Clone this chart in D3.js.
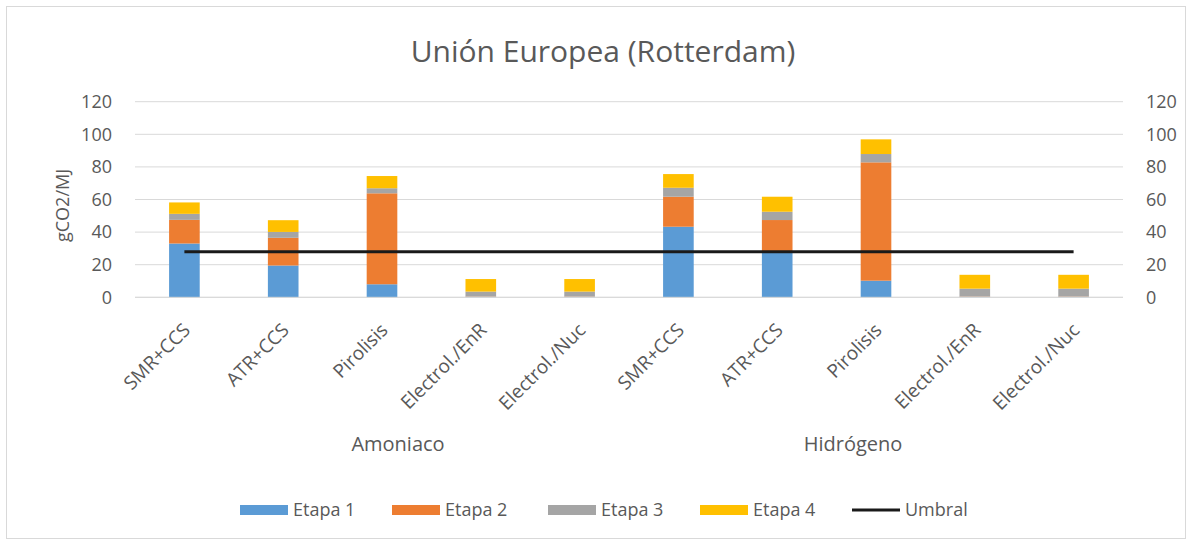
<!DOCTYPE html>
<html>
<head>
<meta charset="utf-8">
<script src="https://cdn.jsdelivr.net/npm/d3@7"></script>
<style>
  body { margin: 0; background: #fff; }
  svg text { font-family: "Open Sans", sans-serif; fill: #595959; }
</style>
</head>
<body>
<svg id="chart" width="1192" height="546"></svg>
<script>
// data
const groups = ['Amoniaco', 'Hidrógeno'];
const procesos = ['SMR+CCS', 'ATR+CCS', 'Pirolisis', 'Electrol./EnR', 'Electrol./Nuc'];
const etapa1 = [33, 19.5, 8, 0.3, 0.3, 43.3, 27.6, 10.2, 0.3, 0.3];
const etapa2 = [14.5, 17, 55.8, 0.2, 0.2, 18.4, 19.8, 72.6, 0.2, 0.2];
const etapa3 = [3.7, 3.6, 3.1, 3, 3, 5.5, 5.1, 5.1, 4.8, 4.8];
const etapa4 = [7, 7.2, 7.5, 7.7, 7.7, 8.4, 9.2, 9, 8.5, 8.5];
const umbral = [28, 28, 28, 28, 28, 28, 28, 28, 28, 28];
const yTicks = [0, 20, 40, 60, 80, 100, 120];

const seriesNames = ['Etapa 1', 'Etapa 2', 'Etapa 3', 'Etapa 4'];
const colors = ['#5B9BD5', '#ED7D31', '#A5A5A5', '#FFC000'];

// build rows, one per bar
let rows = [];
groups.forEach((g, gi) => {
  procesos.forEach((p, pi) => {
    let i = gi * procesos.length + pi;
    rows.push({
      key: g + '|' + p, group: g, label: p,
      'Etapa 1': etapa1[i], 'Etapa 2': etapa2[i],
      'Etapa 3': etapa3[i], 'Etapa 4': etapa4[i],
      umbral: umbral[i]
    });
  });
});

const svg = d3.select('#chart');

// chart border
svg.append('rect')
  .attr('x', 6.5).attr('y', 6.5)
  .attr('width', 1179).attr('height', 532)
  .attr('fill', '#fff').attr('stroke', '#d9d9d9');

const plotL = 135, plotR = 1123, plotT = 101.7, plotB = 297.3;

const x = d3.scaleBand()
  .domain(rows.map(d => d.key))
  .range([plotL, plotR])
  .paddingInner(0.69).paddingOuter(0.345);

const y = d3.scaleLinear().domain([0, 120]).range([plotB, plotT]);

// gridlines
svg.append('g')
  .selectAll('line')
  .data(yTicks)
  .join('line')
  .attr('x1', plotL).attr('x2', plotR)
  .attr('y1', d => y(d)).attr('y2', d => y(d))
  .attr('stroke', '#d9d9d9').attr('stroke-width', 1);

// left and right axes, labels only
const axL = svg.append('g')
  .attr('transform', `translate(${plotL - 23},0)`)
  .call(d3.axisLeft(y).tickValues(yTicks).tickSize(0).tickPadding(0));
const axR = svg.append('g')
  .attr('transform', `translate(${plotR + 23},0)`)
  .call(d3.axisRight(y).tickValues(yTicks).tickSize(0).tickPadding(0));
[axL, axR].forEach(ax => {
  ax.select('.domain').remove();
  ax.selectAll('text')
    .style('font-family', '"Open Sans", sans-serif')
    .style('font-size', '18px')
    .attr('fill', '#595959');
});

// stacked bars
const stack = d3.stack().keys(seriesNames);
const layers = stack(rows);

svg.append('g')
  .selectAll('g')
  .data(layers)
  .join('g')
  .attr('fill', (d, i) => colors[i])
  .selectAll('rect')
  .data(d => d)
  .join('rect')
  .attr('x', d => x(d.data.key))
  .attr('width', x.bandwidth())
  .attr('y', d => y(d[1]))
  .attr('height', d => y(d[0]) - y(d[1]));

// axis baseline
svg.append('line')
  .attr('x1', plotL).attr('x2', plotR)
  .attr('y1', plotB).attr('y2', plotB)
  .attr('stroke', '#d9d9d9');

// Umbral line, from first to last category center
const line = d3.line()
  .x(d => x(d.key) + x.bandwidth() / 2)
  .y(d => y(d.umbral));
svg.append('path')
  .datum(rows)
  .attr('d', line)
  .attr('fill', 'none')
  .attr('stroke', '#1a1a1a')
  .attr('stroke-width', 3);

// rotated category labels
svg.append('g')
  .selectAll('text')
  .data(rows)
  .join('text')
  .attr('transform', d => `translate(${x(d.key) + x.bandwidth() / 2 + 7},${plotB + 34}) rotate(-45)`)
  .attr('text-anchor', 'end')
  .style('font-size', '19px')
  .text(d => d.label);

// group labels
groups.forEach((g, gi) => {
  let keys = rows.filter(r => r.group === g).map(r => r.key);
  let cx = (x(keys[0]) + x(keys[keys.length - 1]) + x.bandwidth()) / 2;
  // labels sit a bit towards the middle in the picture
  cx += gi === 0 ? 16 : -23;
  svg.append('text')
    .attr('x', cx).attr('y', 451)
    .attr('text-anchor', 'middle')
    .style('font-size', '20px')
    .text(g);
});

// title
svg.append('text')
  .attr('x', 603).attr('y', 62)
  .attr('text-anchor', 'middle')
  .style('font-size', '30px')
  .text('Unión Europea (Rotterdam)');

// y axis title
svg.append('text')
  .attr('transform', `translate(69,${(plotT + plotB) / 2 + 6}) rotate(-90)`)
  .attr('text-anchor', 'middle')
  .style('font-size', '18px')
  .text('gCO2/MJ');

// legend
const legendItems = seriesNames.map((s, i) => ({ name: s, color: colors[i], type: 'rect' }))
  .concat([{ name: 'Umbral', color: '#1a1a1a', type: 'line' }]);
const legendX = [240, 392, 548, 700, 852];
const lg = svg.append('g').attr('transform', 'translate(0,510)');
legendItems.forEach((it, i) => {
  let g = lg.append('g').attr('transform', `translate(${legendX[i]},0)`);
  if (it.type === 'rect') {
    g.append('rect').attr('x', 0).attr('y', -5).attr('width', 48).attr('height', 10).attr('fill', it.color);
  } else {
    g.append('line').attr('x1', 0).attr('x2', 48).attr('y1', 0).attr('y2', 0)
      .attr('stroke', it.color).attr('stroke-width', 3);
  }
  g.append('text')
    .attr('x', 53).attr('y', 6)
    .style('font-size', '18px')
    .text(it.name);
});
</script>
</body>
</html>
